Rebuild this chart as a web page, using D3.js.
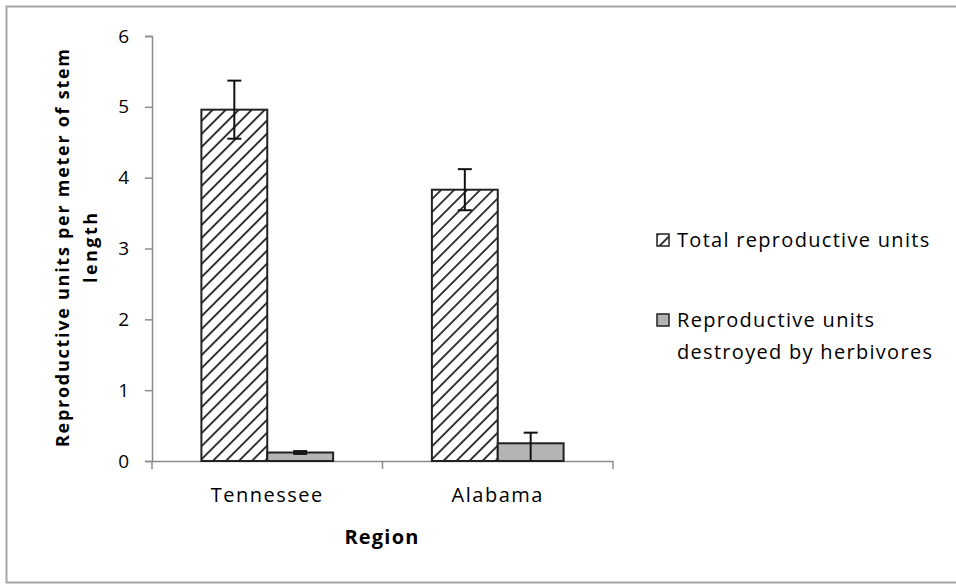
<!DOCTYPE html>
<html>
<head>
<meta charset="utf-8">
<script src="https://cdn.jsdelivr.net/npm/d3@7"></script>
<style>
  body { margin: 0; background: #fff; }
  svg { display: block; }
  svg text { font-family: "Open Sans", Lato, sans-serif; }
</style>
</head>
<body>
<div id="chart"></div>
<script>
// Data
const regions = ['Tennessee', 'Alabama'];
const seriesNames = ['Total reproductive units', 'Reproductive units destroyed by herbivores'];
const totalUnits = [4.96, 3.83];
const totalErr = [0.41, 0.29];
const destroyedUnits = [0.12, 0.25];
const destroyedErrUp = [0.02, 0.15];
const destroyedErrDown = [0.02, 0.25];
const yTicks = [0, 1, 2, 3, 4, 5, 6];

const width = 956, height = 584;
const plot = { left: 152, right: 613, top: 36, bottom: 461 };

const svg = d3.select('#chart').append('svg')
  .attr('width', width)
  .attr('height', height);

// hatch pattern for the total series
const defs = svg.append('defs');
defs.append('pattern')
  .attr('id', 'hatch')
  .attr('patternUnits', 'userSpaceOnUse')
  .attr('width', 9.2)
  .attr('height', 9.2)
  .attr('patternTransform', 'rotate(45)')
  .call(p => {
    p.append('rect').attr('width', 9.2).attr('height', 9.2).attr('fill', '#fff');
    p.append('line')
      .attr('x1', 1).attr('y1', 0).attr('x2', 1).attr('y2', 9.2)
      .attr('stroke', '#222').attr('stroke-width', 1.8);
  });

// outer chart border
svg.append('path')
  .attr('d', `M${width + 5},6.5 H6.5 V582.5 H${width + 5}`)
  .attr('fill', 'none')
  .attr('stroke', '#a6a6a6')
  .attr('stroke-width', 2);

const x0 = d3.scaleBand()
  .domain(regions)
  .range([plot.left, plot.right])
  .paddingInner(0)
  .paddingOuter(0);

const x1 = d3.scaleBand()
  .domain([0, 1])
  .range([0, x0.bandwidth()])
  .paddingInner(0)
  .paddingOuter(0.75); // 150% gap split on both sides

const y = d3.scaleLinear().domain([0, 6]).range([plot.bottom, plot.top]);

// y axis
const yAxis = svg.append('g')
  .attr('transform', `translate(${plot.left},0)`)
  .call(d3.axisLeft(y).tickValues(yTicks).tickSize(7).tickFormat(d3.format('d')));
yAxis.attr('font-family', null);
yAxis.select('.domain').attr('stroke', '#8c8c8c').attr('stroke-width', 1.5);
yAxis.selectAll('.tick line').attr('stroke', '#8c8c8c').attr('stroke-width', 1.5);
yAxis.selectAll('.tick text')
  .attr('x', -23)
  .style('font-size', '19px')
  .attr('fill', '#000');

// x axis
const xAxis = svg.append('g')
  .attr('transform', `translate(0,${plot.bottom})`)
  .call(d3.axisBottom(x0).tickSize(0).tickSizeOuter(0));
xAxis.attr('font-family', null);
xAxis.select('.domain').attr('stroke', '#8c8c8c').attr('stroke-width', 1.5);
xAxis.selectAll('.tick text')
  .attr('y', 27)
  .style('font-size', '20px')
  .style('letter-spacing', '1.5px')
  .attr('fill', '#000');

// category separator ticks on the x axis
const sepX = [plot.left, x0('Alabama'), plot.right];
svg.selectAll('.sep')
  .data(sepX)
  .enter()
  .append('line')
  .attr('x1', d => d).attr('x2', d => d)
  .attr('y1', plot.bottom).attr('y2', plot.bottom + 8)
  .attr('stroke', '#8c8c8c')
  .attr('stroke-width', 1.5);

// bars
const rows = regions.map((r, i) => ({
  region: r,
  total: totalUnits[i], tErr: totalErr[i],
  destroyed: destroyedUnits[i], dUp: destroyedErrUp[i], dDown: destroyedErrDown[i]
}));

const groups = svg.selectAll('.region')
  .data(rows)
  .enter()
  .append('g')
  .attr('transform', d => `translate(${x0(d.region)},0)`);

groups.append('rect')
  .attr('x', x1(0))
  .attr('y', d => y(d.total))
  .attr('width', x1.bandwidth())
  .attr('height', d => y(0) - y(d.total))
  .attr('fill', 'url(#hatch)')
  .attr('stroke', '#222')
  .attr('stroke-width', 2);

groups.append('rect')
  .attr('x', x1(1))
  .attr('y', d => y(d.destroyed))
  .attr('width', x1.bandwidth())
  .attr('height', d => y(0) - y(d.destroyed))
  .attr('fill', '#b4b4b4')
  .attr('stroke', '#222')
  .attr('stroke-width', 2);

// error bars
function errorBar(g, cx, lo, hi, capLo) {
  g.append('line')
    .attr('x1', cx).attr('x2', cx)
    .attr('y1', y(hi)).attr('y2', y(Math.max(lo, 0)))
    .attr('stroke', '#111').attr('stroke-width', 2);
  const caps = capLo ? [hi, lo] : [hi];
  caps.forEach(v => {
    g.append('line')
      .attr('x1', cx - 7).attr('x2', cx + 7)
      .attr('y1', y(v)).attr('y2', y(v))
      .attr('stroke', '#111').attr('stroke-width', 2);
  });
}

groups.each(function(d) {
  const g = d3.select(this);
  const c0 = x1(0) + x1.bandwidth() / 2;
  const c1 = x1(1) + x1.bandwidth() / 2;
  errorBar(g, c0, d.total - d.tErr, d.total + d.tErr, true);
  errorBar(g, c1, d.destroyed - d.dDown, d.destroyed + d.dUp, d.destroyed - d.dDown > 0);
});

// axis titles
svg.append('text')
  .attr('x', 382)
  .attr('y', 544)
  .attr('text-anchor', 'middle')
  .style('font-size', '20px')
  .style('letter-spacing', '1.2px')
  .style('font-weight', 'bold')
  .text('Region');

const yTitle = svg.append('text')
  .attr('transform', 'translate(0,248) rotate(-90)')
  .attr('text-anchor', 'middle')
  .style('font-size', '18px')
  .style('font-weight', 'bold');
yTitle.append('tspan')
  .attr('x', 0).attr('y', 69)
  .attr('textLength', 398)
  .attr('lengthAdjust', 'spacing')
  .text('Reproductive units per meter of stem');
yTitle.append('tspan')
  .attr('x', 0).attr('y', 97)
  .attr('textLength', 70)
  .attr('lengthAdjust', 'spacing')
  .text('length');

// legend
const legendItems = [
  { fill: 'url(#hatch)', lines: [seriesNames[0]], y: 234 },
  { fill: '#b4b4b4', lines: ['Reproductive units', 'destroyed by herbivores'], y: 314 }
];

const legend = svg.append('g').attr('class', 'legend');
const li = legend.selectAll('.legend-item')
  .data(legendItems)
  .enter()
  .append('g')
  .attr('transform', d => `translate(657,${d.y})`);

li.append('rect')
  .attr('width', 12).attr('height', 12)
  .attr('fill', d => d.fill)
  .attr('stroke', '#222')
  .attr('stroke-width', 1.5);

li.append('text')
  .style('font-size', '20px')
  .style('letter-spacing', '1.3px')
  .selectAll('tspan')
  .data(d => d.lines)
  .enter()
  .append('tspan')
  .attr('x', 20)
  .attr('y', (d, i) => 13 + i * 32)
  .text(d => d);
</script>
</body>
</html>
